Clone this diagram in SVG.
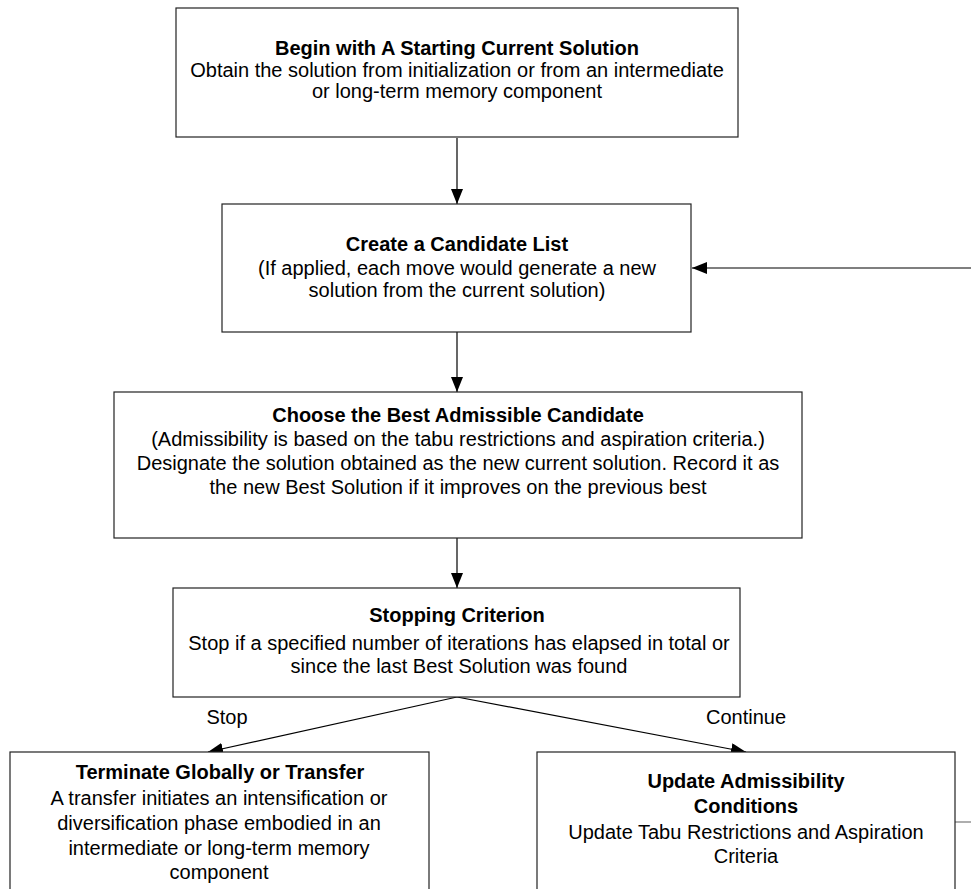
<svg xmlns="http://www.w3.org/2000/svg" width="971" height="889" viewBox="0 0 971 889">
  <style>
    .box { fill: #ffffff; stroke: #222222; stroke-width: 1.2; }
    .t { font-family: "Liberation Sans", Arial, sans-serif; font-size: 20px; fill: #000000; text-anchor: middle; }
    .b { font-weight: bold; }
    .edge { stroke: #000000; stroke-width: 1.2; fill: none; }
  </style>
  <defs>
    <marker id="arrow" viewBox="0 0 15 12" refX="15" refY="6" markerWidth="15" markerHeight="12" markerUnits="userSpaceOnUse" orient="auto">
      <path d="M0,0 L15,6 L0,12 Z" fill="#000000"/>
    </marker>
  </defs>
  <rect width="971" height="889" fill="#ffffff"/>

  <g id="connectors">
    <line class="edge" x1="457" y1="138" x2="457" y2="204" marker-end="url(#arrow)"/>
    <line class="edge" x1="457" y1="332" x2="457" y2="392" marker-end="url(#arrow)"/>
    <line class="edge" x1="457" y1="538" x2="457" y2="588" marker-end="url(#arrow)"/>
    <line class="edge" x1="457" y1="697" x2="208" y2="752" marker-end="url(#arrow)"/>
    <line class="edge" x1="457" y1="697" x2="746" y2="752" marker-end="url(#arrow)"/>
    <line class="edge" x1="971" y1="268" x2="692" y2="268" marker-end="url(#arrow)"/>
    <line x1="955" y1="822" x2="971" y2="822" stroke="#777777" stroke-width="1.2"/>
    <text class="t" x="227" y="724">Stop</text>
    <text class="t" x="746" y="724">Continue</text>
  </g>

  <g id="start">
    <rect class="box" x="176" y="8" width="562" height="129"/>
    <text class="t b" x="457" y="55">Begin with A Starting Current Solution</text>
    <text class="t" x="457" y="77">Obtain the solution from initialization or from an intermediate</text>
    <text class="t" x="457" y="98">or long-term memory component</text>
  </g>

  <g id="candidates">
    <rect class="box" x="222" y="204" width="469" height="128"/>
    <text class="t b" x="457" y="251">Create a Candidate List</text>
    <text class="t" x="457" y="275">(If applied, each move would generate a new</text>
    <text class="t" x="457" y="297">solution from the current solution)</text>
  </g>

  <g id="choose">
    <rect class="box" x="114" y="392" width="688" height="146"/>
    <text class="t b" x="458" y="422">Choose the Best Admissible Candidate</text>
    <text class="t" x="458" y="446">(Admissibility is based on the tabu restrictions and aspiration criteria.)</text>
    <text class="t" x="458" y="470">Designate the solution obtained as the new current solution. Record it as</text>
    <text class="t" x="458" y="494">the new Best Solution if it improves on the previous best</text>
  </g>

  <g id="stopping">
    <rect class="box" x="173" y="588" width="567" height="109"/>
    <text class="t b" x="457" y="622">Stopping Criterion</text>
    <text class="t" x="459" y="650">Stop if a specified number of iterations has elapsed in total or</text>
    <text class="t" x="459" y="673">since the last Best Solution was found</text>
  </g>

  <g id="terminate">
    <rect class="box" x="10" y="752" width="419" height="150"/>
    <text class="t b" x="220" y="779">Terminate Globally or Transfer</text>
    <text class="t" x="219" y="805">A transfer initiates an intensification or</text>
    <text class="t" x="219" y="830">diversification phase embodied in an</text>
    <text class="t" x="219" y="855">intermediate or long-term memory</text>
    <text class="t" x="219" y="879">component</text>
  </g>

  <g id="update">
    <rect class="box" x="537" y="752" width="418" height="150"/>
    <text class="t b" x="746" y="788">Update Admissibility</text>
    <text class="t b" x="746" y="813">Conditions</text>
    <text class="t" x="746" y="839">Update Tabu Restrictions and Aspiration</text>
    <text class="t" x="746" y="863">Criteria</text>
  </g>
</svg>
